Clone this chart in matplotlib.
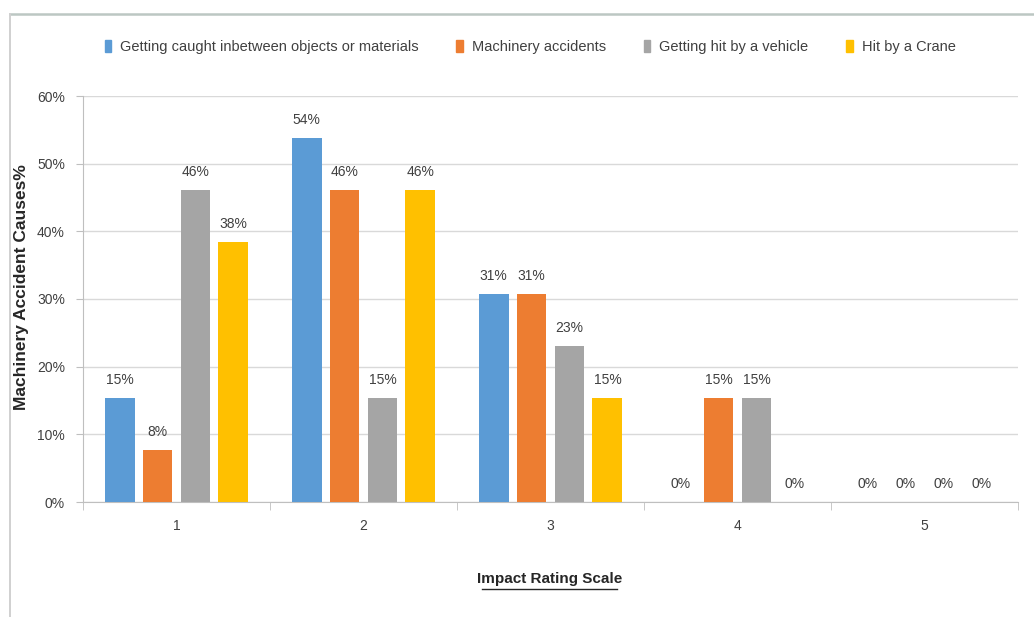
import matplotlib
matplotlib.use("Agg")
import matplotlib.pyplot as plt
import numpy as np
from matplotlib.patches import Rectangle
from matplotlib.lines import Line2D

categories = ["1", "2", "3", "4", "5"]
series_names = ["Getting caught inbetween objects or materials", "Machinery accidents",
                "Getting hit by a vehicle", "Hit by a Crane"]
caught = [15.38, 53.85, 30.77, 0.0, 0.0]
machinery = [7.69, 46.15, 30.77, 15.38, 0.0]
vehicle = [46.15, 15.38, 23.08, 15.38, 0.0]
crane = [38.46, 46.15, 15.38, 0.0, 0.0]
yticks = [0, 10, 20, 30, 40, 50, 60]
colors = ["#5b9bd5", "#ed7d31", "#a5a5a5", "#ffc000"]

plt.rcParams['font.family'] = ['Liberation Sans', 'DejaVu Sans']
txt = "#404040"

fig = plt.figure(figsize=(10.34, 6.17), dpi=100)
ax = fig.add_axes([83/1034, 1-502/617, 935/1034, 406/617])

# outer chart border (top and left edges visible)
fig.add_artist(Line2D([10/1034, 1.0], [1-14/617, 1-14/617], color="#bcc7c3", lw=1.8))
fig.add_artist(Line2D([10/1034, 10/1034], [1-14/617, 0.0], color="#d0d0d0", lw=1.4))

data = [caught, machinery, vehicle, crane]
x = np.arange(len(categories))
w = 0.16
step = 0.203
for i, (vals, c, name) in enumerate(zip(data, colors, series_names)):
    pos = x + (i - 1.5) * step
    ax.bar(pos, vals, width=w, color=c, label=name, zorder=3)
    for p, v in zip(pos, vals):
        ax.text(p, v + 1.6, f"{round(v):.0f}%", ha="center", va="bottom",
                fontsize=10, color=txt)

ax.set_xlim(-0.5, len(categories) - 0.5)
ax.set_ylim(0, 60)
ax.set_yticks(yticks)
ax.set_yticklabels([f"{t}%" for t in yticks], fontsize=10, color=txt)
ax.set_xticks(x)
ax.set_xticklabels(categories, fontsize=10, color=txt)
ax.tick_params(axis="x", length=0, pad=12)
ax.tick_params(axis="y", length=5, color="#bfbfbf", pad=8)
ax.set_xticks(np.arange(-0.5, len(categories)), minor=True)
ax.tick_params(axis="x", which="minor", length=6, color="#bfbfbf")
ax.grid(axis="y", color="#d9d9d9", lw=1, zorder=0)
for s in ["top", "right"]:
    ax.spines[s].set_visible(False)
for s in ["left", "bottom"]:
    ax.spines[s].set_color("#bfbfbf")

fig.text(22/1034, 1-287/617, "Machinery Accident Causes%", rotation=90, ha="center", va="center",
         fontsize=12.5, fontweight="bold", color="#262626")
fig.text(550/1034, 1-579/617, "Impact Rating Scale", ha="center", va="center",
         fontsize=11, fontweight="bold", color="#262626")
fig.add_artist(Line2D([482/1034, 617/1034], [1-589/617, 1-589/617], color="#262626", lw=1.0))

handles = [Rectangle((0, 0), 1, 1, color=c) for c in colors]
fig.legend(handles, series_names, loc="center", bbox_to_anchor=(530/1034, 1-47/617), ncol=4,
           frameon=False, fontsize=10.5, handlelength=0.45, handleheight=0.9,
           handletextpad=0.6, columnspacing=2.6, labelcolor=txt)

fig.savefig("out.png", dpi=100)
